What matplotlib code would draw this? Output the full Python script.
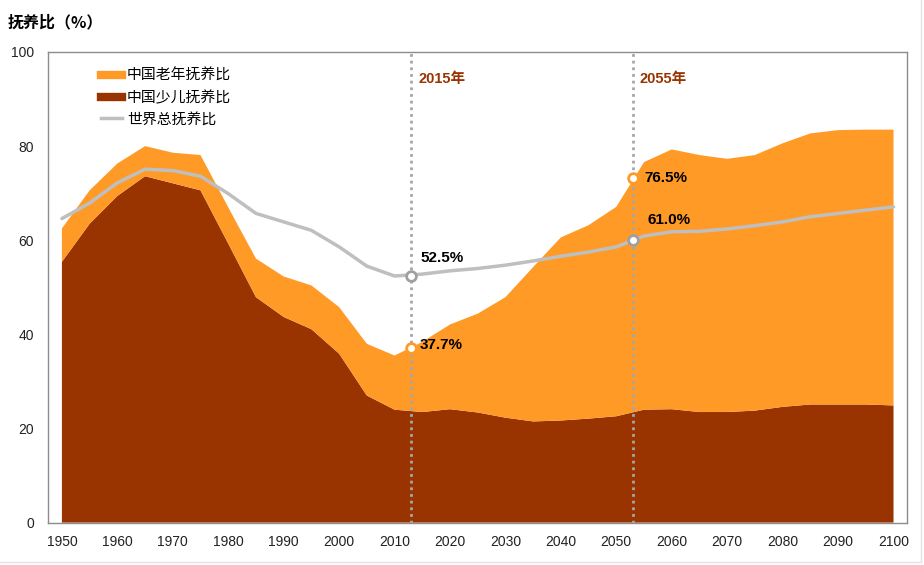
import numpy as np
import matplotlib.pyplot as plt
from matplotlib.lines import Line2D
from matplotlib.patches import Rectangle

plt.rcParams['font.family'] = ['Noto Sans CJK SC', 'DejaVu Sans']

# 数据（每 5 年一个点，从图上读取）
years = np.arange(1950, 2101, 5)
child = [55.4, 63.5, 69.4, 73.6, 72.1, 70.6, 59.3, 47.9, 43.7, 41.1, 35.9,
         27.0, 24.0, 23.5, 24.1, 23.4, 22.3, 21.5, 21.7, 22.1, 22.6, 24.0,
         24.1, 23.5, 23.5, 23.8, 24.6, 25.1, 25.1, 25.1, 24.9]
old = [7.1, 7.1, 6.9, 6.4, 6.5, 7.5, 7.7, 8.2, 8.6, 9.3, 9.9,
       11.0, 11.5, 14.9, 18.0, 21.0, 25.6, 32.8, 38.9, 41.1, 44.5, 52.6,
       55.2, 54.6, 53.8, 54.3, 56.0, 57.6, 58.3, 58.4, 58.6]
world = [64.6, 67.9, 72.2, 75.1, 74.8, 73.6, 69.9, 65.7, 63.9, 62.1, 58.6,
         54.5, 52.4, 52.8, 53.5, 54.0, 54.7, 55.6, 56.6, 57.5, 58.6, 60.9,
         61.8, 61.9, 62.4, 63.1, 63.9, 65.0, 65.7, 66.4, 67.1]

mark_years = [2013, 2053]
mark_labels = ['2015年', '2055年']
china_mark = [37.2, 73.3]
china_text = ['37.7%', '76.5%']
world_mark = [52.3, 60.1]
world_text = ['52.5%', '61.0%']

c_old = '#FF9A26'
c_child = '#993300'
c_world = '#BFBFBF'
c_vline = '#A6A6A6'

fig = plt.figure(figsize=(9.24, 5.65), dpi=100)
ax = fig.add_axes([0.052, 0.075, 0.930, 0.833])

ax.stackplot(years, child, old, colors=[c_child, c_old], linewidth=0)
ax.plot(years, world, color=c_world, lw=2.5, solid_capstyle='round')

for yr, lab in zip(mark_years, mark_labels):
    ax.axvline(yr, color=c_vline, lw=2, ls=(0, (1, 1.4)), zorder=3)
    ax.annotate(lab, (yr, 94.3), xytext=(7, 0), textcoords='offset pixels',
                color=c_child, fontsize=10.5, fontweight='bold', va='center',
                family=['Liberation Sans', 'Noto Sans CJK SC'])

ax.plot(mark_years, china_mark, 'o', ms=7, mfc='white', mec=c_old, mew=2, zorder=5)
ax.plot(mark_years, world_mark, 'o', ms=7, mfc='white', mec='#A0A0A0', mew=2, zorder=5)

offs_china = [(9, 3), (11, 0)]
offs_world = [(9, 18), (15, 20)]
for yr, v, t, o in zip(mark_years, china_mark, china_text, offs_china):
    ax.annotate(t, (yr, v), xytext=o, textcoords='offset pixels', fontsize=11,
                fontweight='bold', va='center', family='Liberation Sans', zorder=6)
for yr, v, t, o in zip(mark_years, world_mark, world_text, offs_world):
    ax.annotate(t, (yr, v), xytext=o, textcoords='offset pixels', fontsize=11,
                fontweight='bold', va='center', family='Liberation Sans', zorder=6)

ax.set_xlim(1947.5, 2102.5)
ax.set_ylim(0, 100)
ax.set_xticks(np.arange(1950, 2101, 10))
ax.set_yticks(np.arange(0, 101, 20))
ax.tick_params(length=0, colors='#222222')
ax.tick_params(axis='x', pad=9)
ax.tick_params(axis='y', pad=10)
for lbl in ax.get_xticklabels() + ax.get_yticklabels():
    lbl.set_family('Liberation Sans')
    lbl.set_fontsize(10)
for s in ax.spines.values():
    s.set_color('#8C8C8C')
    s.set_linewidth(1)

handles = [Line2D([], [], color=c_old, lw=6),
           Line2D([], [], color=c_child, lw=6),
           Line2D([], [], color=c_world, lw=2.5)]
ax.legend(handles, ['中国老年抚养比', '中国少儿抚养比', '世界总抚养比'],
          loc='upper left', bbox_to_anchor=(0.046, 0.993), frameon=False,
          fontsize=10.7, handlelength=1.4, handletextpad=0.35, labelspacing=0.52)

fig.text(0.008, 0.961, '抚养比（%）', fontsize=11.5, fontweight='bold', va='center')

fig.patches.append(Rectangle((-0.01, 0.006), 0.006 + 0.01 + 0.9912, 1.0,
                             transform=fig.transFigure, fill=False,
                             edgecolor='#E3E3E3', lw=1))

fig.savefig('out.png', dpi=100)
